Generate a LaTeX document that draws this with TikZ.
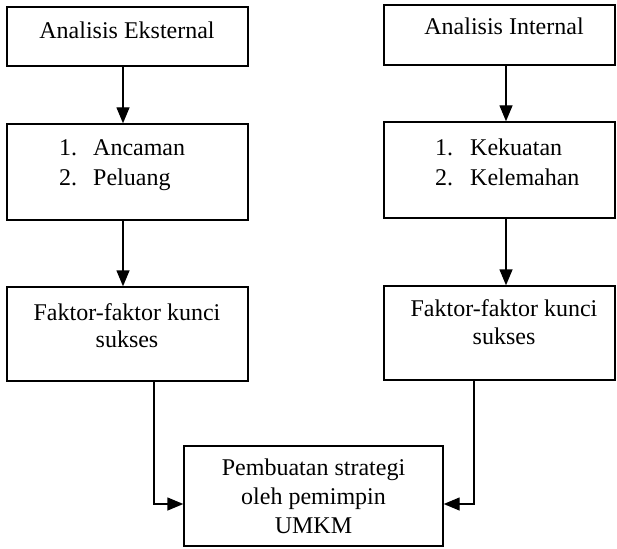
\documentclass[tikz,border=0pt]{standalone}
\usepackage{fontspec}
\setmainfont{Liberation Serif}
\usetikzlibrary{arrows.meta}
\begin{document}
\begin{tikzpicture}[x=1pt,y=-1pt,
  boxnode/.style={draw,line width=1.4pt,rectangle,inner sep=0pt},
  lbl/.style={anchor=base,inner sep=0pt,font=\fontsize{24}{29}\selectfont},
  lst/.style={anchor=base west,inner sep=0pt,font=\fontsize{24}{29}\selectfont},
  arr/.style={line width=1.4pt,-{Triangle[length=16pt,width=13pt]}},
]
\useasboundingbox (0,0) rectangle (617,548);
% boxes
\node[boxnode, minimum width=241pt, minimum height=59pt] (E1) at (127.5,36.5) {};
\node[boxnode, minimum width=241pt, minimum height=96pt] (E2) at (127.5,172) {};
\node[boxnode, minimum width=241pt, minimum height=94pt] (E3) at (127.5,334) {};
\node[boxnode, minimum width=231pt, minimum height=60pt] (I1) at (499.5,35) {};
\node[boxnode, minimum width=231pt, minimum height=96pt] (I2) at (499.5,170) {};
\node[boxnode, minimum width=231pt, minimum height=94pt] (I3) at (499.5,333) {};
\node[boxnode, minimum width=259pt, minimum height=100pt] (F) at (313.5,496) {};
% connectors
\coordinate (lx) at (123,0);
\coordinate (rx) at (506,0);
\draw[arr] (E1.south -| lx) -- (E2.north -| lx);
\draw[arr] (E2.south -| lx) -- (E3.north -| lx);
\draw[arr] (I1.south -| rx) -- (I2.north -| rx);
\draw[arr] (I2.south -| rx) -- (I3.north -| rx);
\coordinate (lc) at (154,504);
\coordinate (rc) at (474,504);
\draw[arr] (E3.south -| lc) |- (F.west |- lc);
\draw[arr] (I3.south -| rc) |- (F.east |- rc);
% texts
\node[lbl] (t1) at (127,39) {Analisis Eksternal};
\node[lbl] (t2) at (504,35) {Analisis Internal};
\node[lst] (t3) at (59,155) {\makebox[34pt][l]{1.}Ancaman};
\node[lst] (t4) at (59,185) {\makebox[34pt][l]{2.}Peluang};
\node[lst] (t5) at (435,155) {\makebox[35pt][l]{1.}Kekuatan};
\node[lst] (t6) at (435,185) {\makebox[35pt][l]{2.}Kelemahan};
\node[lbl] (t7) at (127,320) {Faktor-faktor kunci};
\node[lbl] (t8) at (127,347) {sukses};
\node[lbl] (t9) at (504,316) {Faktor-faktor kunci};
\node[lbl] (t10) at (504,344) {sukses};
\node[lbl] (t11) at (313.5,475) {Pembuatan strategi};
\node[lbl] (t12) at (313.5,504) {oleh pemimpin};
\node[lbl] (t13) at (313.5,533) {UMKM};
\end{tikzpicture}
\end{document}
